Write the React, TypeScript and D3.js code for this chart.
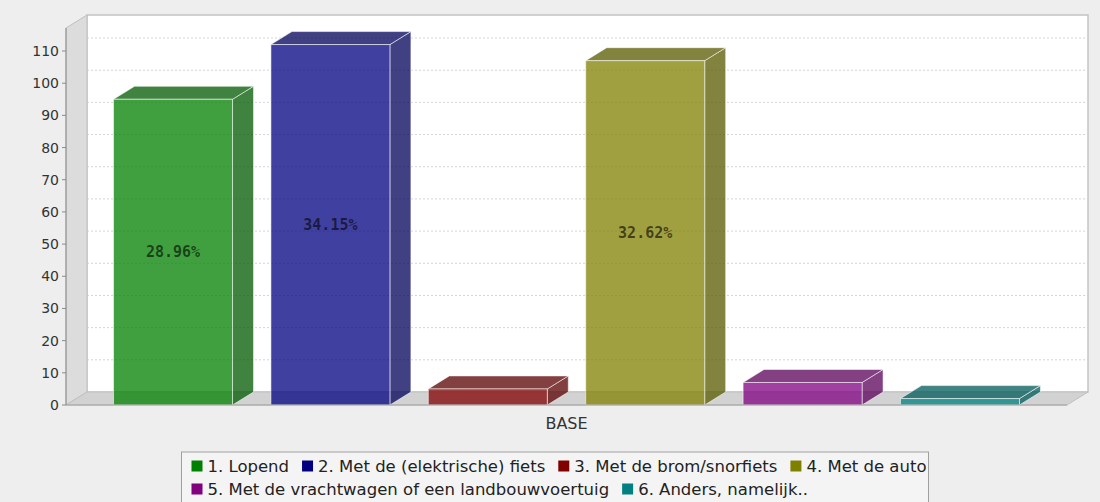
import React, { useEffect, useRef } from "react";
import * as d3 from "d3";

const categories = ["BASE"];
const seriesNames = [
  "1. Lopend",
  "2. Met de (elektrische) fiets",
  "3. Met de brom/snorfiets",
  "4. Met de auto",
  "5. Met de vrachtwagen of een landbouwvoertuig",
  "6. Anders, namelijk..",
];
const seriesValues = [95, 112, 5, 107, 7, 2];
const seriesColors = ["#008000", "#000080", "#800000", "#808000", "#800080", "#008080"];
const yTicks = [0, 10, 20, 30, 40, 50, 60, 70, 80, 90, 100, 110];
const yMax = 117.15;

function darker(c: string) {
  const r = d3.rgb(c);
  return d3.rgb(r.r * 0.7, r.g * 0.7, r.b * 0.7).formatHex();
}

export default function App() {
  const ref = useRef<SVGSVGElement>(null);
  useEffect(() => {
    const W = 1100, H = 502;
    const svg = d3.select(ref.current!);
    svg.selectAll("*").remove();
    const left = 66, right = 1067, base = 405, top = 28, dx = 21, dy = 13;
    const font = "'DejaVu Sans', sans-serif";

    const y = d3.scaleLinear().domain([0, yMax]).range([base, top]);
    const x = d3
      .scaleBand<string>()
      .domain(seriesNames)
      .range([left, right])
      .paddingInner(0.244)
      .paddingOuter(0.302);

    svg.append("rect").attr("width", W).attr("height", H).attr("fill", "#eeeeee");

    // back wall
    svg
      .append("rect")
      .attr("x", left + dx)
      .attr("y", top - dy)
      .attr("width", right - left)
      .attr("height", base - top)
      .attr("fill", "#ffffff")
      .attr("stroke", "#c4c4c4")
      .attr("stroke-width", 1.5);

    // gridlines
    svg
      .append("g")
      .selectAll("line")
      .data(yTicks.filter((v) => v > 0))
      .join("line")
      .attr("x1", left + dx)
      .attr("x2", right + dx)
      .attr("y1", (v) => y(v) - dy)
      .attr("y2", (v) => y(v) - dy)
      .attr("stroke", "#d4d4d4")
      .attr("stroke-dasharray", "2,2");

    const poly = (pts: number[][]) => "M" + pts.map((p) => p.join(",")).join("L") + "Z";

    // left wall
    svg
      .append("path")
      .attr("d", poly([[left, top], [left + dx, top - dy], [left + dx, base - dy], [left, base]]))
      .attr("fill", "#dcdcdc")
      .attr("stroke", "#c0c0c0");
    // floor
    svg
      .append("path")
      .attr("d", poly([[left, base], [left + dx, base - dy], [right + dx, base - dy], [right, base]]))
      .attr("fill", "#d2d2d2")
      .attr("stroke", "#c0c0c0");

    // bars
    const total = d3.sum(seriesValues);
    const bars = svg.append("g");
    seriesNames.forEach((name, i) => {
      const v = seriesValues[i];
      const bx = x(name)!;
      const w = x.bandwidth();
      const yt = y(v);
      const c = seriesColors[i];
      const dc = darker(c);
      const g = bars.append("g");
      const stroke = "rgba(255,255,255,0.55)";
      g.append("path")
        .attr("d", poly([[bx + w, yt], [bx + w + dx, yt - dy], [bx + w + dx, base - dy], [bx + w, base]]))
        .attr("fill", dc)
        .attr("fill-opacity", 0.75)
        .attr("stroke", stroke);
      g.append("path")
        .attr("d", poly([[bx, yt], [bx + dx, yt - dy], [bx + w + dx, yt - dy], [bx + w, yt]]))
        .attr("fill", dc)
        .attr("fill-opacity", 0.75)
        .attr("stroke", stroke);
      g.append("rect")
        .attr("x", bx)
        .attr("y", yt)
        .attr("width", w)
        .attr("height", base - yt)
        .attr("fill", c)
        .attr("fill-opacity", 0.75)
        .attr("stroke", stroke);
      if (base - yt > 40) {
        g.append("text")
          .attr("x", bx + w / 2)
          .attr("y", (yt + base) / 2)
          .attr("text-anchor", "middle")
          .attr("dominant-baseline", "central")
          .attr("font-family", "'DejaVu Sans Mono', monospace")
          .attr("font-weight", "bold")
          .attr("font-size", 15)
          .attr("fill", "#000")
          .attr("fill-opacity", 0.6)
          .text(((v / total) * 100).toFixed(2) + "%");
      }
    });

    // axes
    svg.append("line").attr("x1", left).attr("x2", left).attr("y1", top).attr("y2", base).attr("stroke", "#8a8a8a");
    svg.append("line").attr("x1", left).attr("x2", right).attr("y1", base).attr("y2", base).attr("stroke", "#a0a0a0");
    const ticks = svg.append("g");
    yTicks.forEach((v) => {
      ticks.append("line").attr("x1", left - 4).attr("x2", left).attr("y1", y(v)).attr("y2", y(v)).attr("stroke", "#8a8a8a");
      ticks
        .append("text")
        .attr("x", left - 7)
        .attr("y", y(v))
        .attr("text-anchor", "end")
        .attr("dominant-baseline", "central")
        .attr("font-family", font)
        .attr("font-size", 14)
        .attr("fill", "#333")
        .text(String(v));
    });

    // category label
    svg
      .append("text")
      .attr("x", (left + right) / 2)
      .attr("y", 423)
      .attr("text-anchor", "middle")
      .attr("dominant-baseline", "central")
      .attr("font-family", font)
      .attr("font-size", 16)
      .attr("fill", "#333")
      .text(categories[0]);

    // legend
    const lg = svg.append("g");
    const fs = 16.5, sq = 11, gapSq = 5, gapItem = 13, rowH = 23, pad = 6, maxW = 800;
    const box = lg.append("rect");
    const items = seriesNames.map((name, i) => {
      const ig = lg.append("g");
      ig.append("rect").attr("width", sq).attr("height", sq).attr("y", -sq / 2).attr("fill", seriesColors[i]);
      const t = ig
        .append("text")
        .attr("x", sq + gapSq)
        .attr("dominant-baseline", "central")
        .attr("font-family", font)
        .attr("font-size", fs)
        .attr("fill", "#222")
        .text(name);
      const tw = (t.node() as SVGTextElement).getComputedTextLength();
      return { ig, w: sq + gapSq + tw };
    });
    const rows: { ig: any; w: number }[][] = [[]];
    let cur = 0;
    items.forEach((it) => {
      const add = (rows[rows.length - 1].length ? gapItem : 0) + it.w;
      if (cur + add > maxW && rows[rows.length - 1].length) {
        rows.push([it]);
        cur = it.w;
      } else {
        rows[rows.length - 1].push(it);
        cur += add;
      }
    });
    const rowWidths = rows.map((r) => d3.sum(r, (it) => it.w) + gapItem * (r.length - 1));
    const bw = d3.max(rowWidths)! + pad * 2;
    const bx0 = W / 2 + 5 - bw / 2;
    const by0 = 452;
    box
      .attr("x", bx0)
      .attr("y", by0)
      .attr("width", bw)
      .attr("height", rows.length * rowH + 8)
      .attr("fill", "#f4f4f4")
      .attr("stroke", "#a0a0a0");
    rows.forEach((r, ri) => {
      let cx = bx0 + pad + 4;
      r.forEach((it) => {
        it.ig.attr("transform", `translate(${cx},${by0 + 14 + ri * rowH})`);
        cx += it.w + gapItem;
      });
    });
  }, []);
  return <svg ref={ref} width={1100} height={502} style={{ position: "absolute", left: 0, top: 0 }} />;
}
